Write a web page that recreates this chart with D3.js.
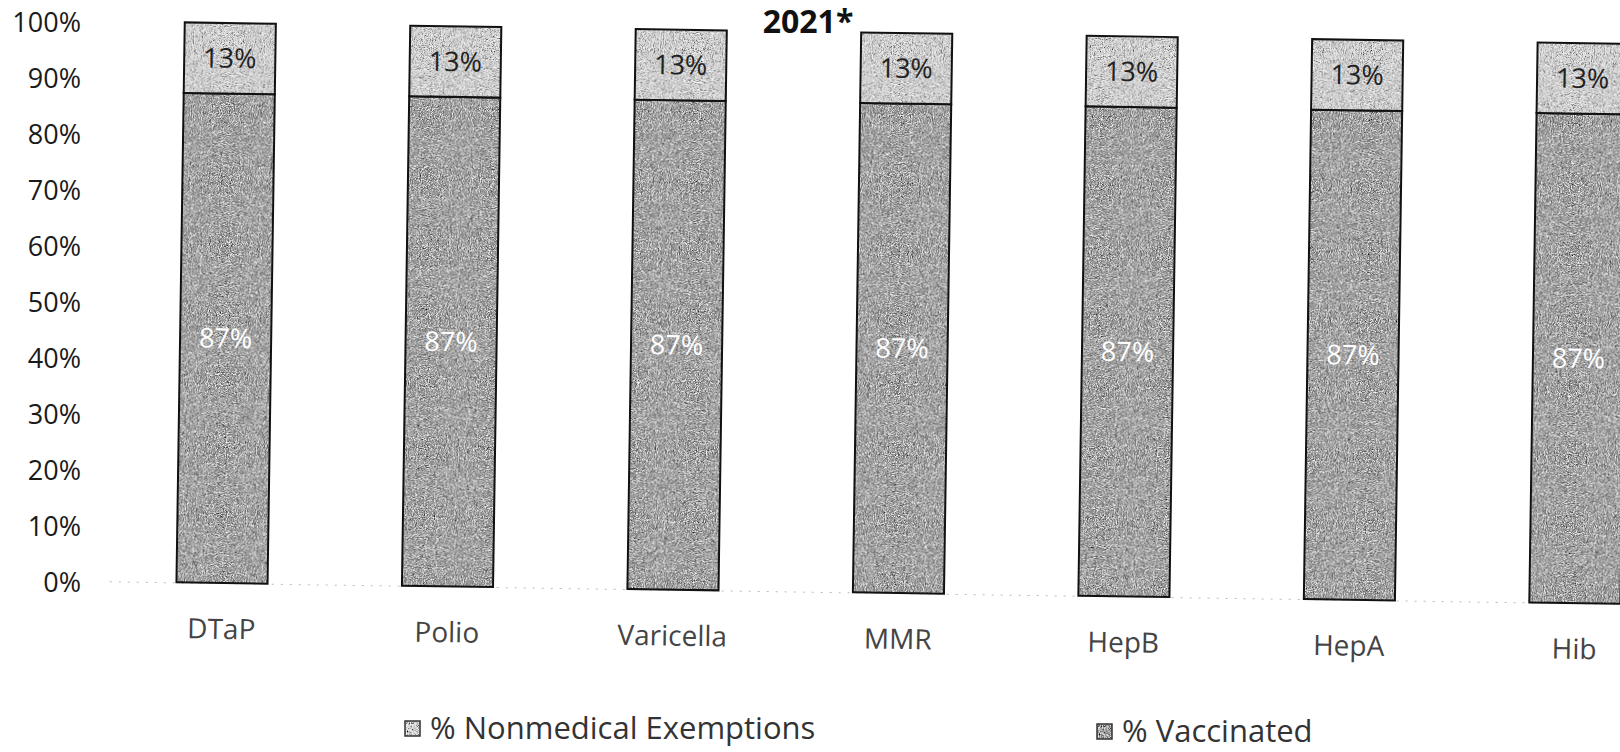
<!DOCTYPE html>
<html>
<head>
<meta charset="utf-8">
<script src="https://d3js.org/d3.v7.min.js"></script>
<style>
body { margin: 0; background: #fff; }
svg { display: block; font-family: "Open Sans", "Noto Sans", sans-serif; }
.axis text { font-family: "Open Sans", "Noto Sans", sans-serif; }
.axis path, .axis line { fill: none; }
.y.axis text { font-size: 27px; fill: #1a1a1a; }
.x.axis text { font-size: 28px; fill: #444; }
.x.axis path { stroke: #bbb; stroke-dasharray: 2,7; }
.legend text { font-size: 31px; fill: #333; }
</style>
</head>
<body>
<div id="chart"></div>
<script>

// chart values
var vaccines = ["DTaP", "Polio", "Varicella", "MMR", "HepB", "HepA", "Hib"];
var pctVaccinated = [87.4, 87.4, 87.4, 87.4, 87.4, 87.4, 87.4];
var pctExempt = [12.6, 12.6, 12.6, 12.6, 12.6, 12.6, 12.6];
var yTicks = [0, 10, 20, 30, 40, 50, 60, 70, 80, 90, 100];
var seriesNames = ["% Nonmedical Exemptions", "% Vaccinated"];

var width = 1620, height = 752;

var colours = { exempt: "#d2d2d2", vaccinated: "#9a9a9a" };

var svg = d3.select("#chart").append("svg")
    .attr("width", width)
    .attr("height", height);

// scanner grain on the filled boxes
var filter = svg.append("defs").append("filter")
    .attr("id", "grain")
    .attr("x", 0).attr("y", 0).attr("width", 1).attr("height", 1);
filter.append("feTurbulence")
    .attr("type", "fractalNoise")
    .attr("baseFrequency", 1.1)
    .attr("numOctaves", 2)
    .attr("seed", 3)
    .attr("result", "noise");
filter.append("feColorMatrix")
    .attr("in", "noise")
    .attr("type", "saturate")
    .attr("values", 0)
    .attr("result", "grey");
filter.append("feComponentTransfer")
    .attr("in", "grey")
    .attr("result", "contrast")
    .call(function(f) {
        ["feFuncR", "feFuncG", "feFuncB"].forEach(function(c) {
            f.append(c).attr("type", "linear").attr("slope", 2.2).attr("intercept", -0.6);
        });
        f.append("feFuncA").attr("type", "linear").attr("slope", 0).attr("intercept", 1);
    });
filter.append("feBlend")
    .attr("in", "SourceGraphic")
    .attr("in2", "contrast")
    .attr("mode", "overlay")
    .attr("result", "blend");
filter.append("feComposite")
    .attr("in", "blend")
    .attr("in2", "SourceGraphic")
    .attr("operator", "in");

var table = vaccines.map(function(v, i) {
    return { vaccine: v, vaccinated: pctVaccinated[i], exempt: pctExempt[i] };
});

var stack = d3.stack().keys(["vaccinated", "exempt"]);
var layers = stack(table);

// scanned page sits slightly tilted
var pivotX = 222, baseY = 583, step = 225.5;

var x = d3.scaleBand()
    .domain(vaccines)
    .range([pivotX - step / 2, pivotX + step * (vaccines.length - 0.5)])
    .paddingInner(0.596)
    .paddingOuter(0.298);

var y = d3.scaleLinear().domain([0, 100]).range([baseY, 23]);

// y axis (not tilted)
svg.append("g")
    .attr("class", "y axis")
    .attr("transform", "translate(81,0)")
    .call(d3.axisLeft(y).tickValues(yTicks).tickSize(0).tickPadding(0)
        .tickFormat(function(d) { return d + "%"; }))
    .call(function(g) { g.select(".domain").remove(); });

svg.append("text")
    .attr("x", 808)
    .attr("y", 33)
    .attr("text-anchor", "middle")
    .style("font-size", "32px")
    .style("font-weight", "bold")
    .style("fill", "#111")
    .text("2021*");

var g = svg.append("g")
    .attr("transform", "rotate(0.85," + pivotX + "," + baseY + ")");

g.append("g")
    .attr("class", "x axis")
    .attr("transform", "translate(0," + baseY + ")")
    .call(d3.axisBottom(x).tickSize(0).tickPadding(36));

var layer = g.selectAll(".layer")
    .data(layers)
  .enter().append("g")
    .attr("class", "layer")
    .attr("fill", function(d) { return colours[d.key]; });

layer.selectAll("rect")
    .data(function(d) { return d; })
  .enter().append("rect")
    .attr("x", function(d) { return x(d.data.vaccine); })
    .attr("y", function(d) { return y(d[1]); })
    .attr("width", x.bandwidth())
    .attr("height", function(d) { return y(d[0]) - y(d[1]); })
    .attr("filter", "url(#grain)");

// outlines drawn after the grain so they stay crisp
layer.selectAll("rect.edge")
    .data(function(d) { return d; })
  .enter().append("rect")
    .attr("class", "edge")
    .attr("x", function(d) { return x(d.data.vaccine); })
    .attr("y", function(d) { return y(d[1]); })
    .attr("width", x.bandwidth())
    .attr("height", function(d) { return y(d[0]) - y(d[1]); })
    .attr("fill", "none")
    .attr("stroke", "#111")
    .attr("stroke-width", 2);

layer.selectAll("text")
    .data(function(d) { return d; })
  .enter().append("text")
    .attr("x", function(d) { return x(d.data.vaccine) + x.bandwidth() / 2; })
    .attr("y", function(d) { return (y(d[0]) + y(d[1])) / 2; })
    .attr("dy", "0.35em")
    .attr("text-anchor", "middle")
    .style("font-size", "27px")
    .style("fill", function(d) { return d[0] === 0 ? "#fff" : "#222"; })
    .text(function(d) { return d3.format(".0f")(d[1] - d[0]) + "%"; });

// legend
var legendItems = [
    { name: seriesNames[0], key: "exempt", x: 405, y: 728 },
    { name: seriesNames[1], key: "vaccinated", x: 1097, y: 731 }
];

var legend = svg.selectAll(".legend")
    .data(legendItems)
  .enter().append("g")
    .attr("class", "legend")
    .attr("transform", function(d) { return "translate(" + d.x + "," + d.y + ")"; });

legend.append("rect")
    .attr("x", 0)
    .attr("y", -7)
    .attr("width", 15)
    .attr("height", 15)
    .attr("fill", function(d) { return colours[d.key]; })
    .attr("filter", "url(#grain)");

legend.append("rect")
    .attr("x", 0)
    .attr("y", -7)
    .attr("width", 15)
    .attr("height", 15)
    .attr("fill", "none")
    .attr("stroke", "#333")
    .attr("stroke-width", 1.5);

legend.append("text")
    .attr("x", 25)
    .attr("dy", "0.35em")
    .text(function(d) { return d.name; });

</script>
</body>
</html>
